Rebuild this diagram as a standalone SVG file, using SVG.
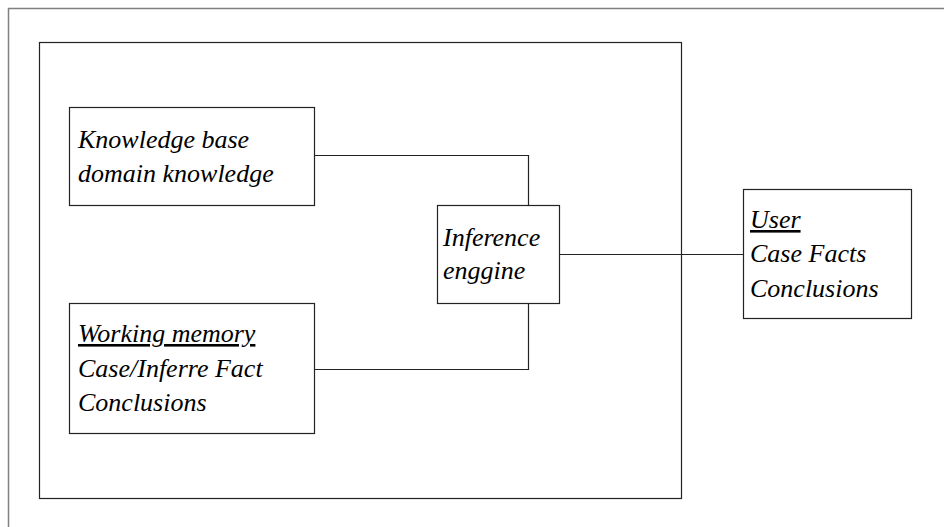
<svg xmlns="http://www.w3.org/2000/svg" width="944" height="527" viewBox="0 0 944 527">
<style>
.box{fill:#fff;stroke:#222;stroke-width:1.2}
.frame{fill:none;stroke:#808080;stroke-width:1.5}
.c{fill:none;stroke:#222;stroke-width:1.2}
.u{text-decoration:underline}
</style>
<rect width="944" height="527" fill="#fff"/>
<g id="frame"><path class="frame" d="M8.5,527 V8.5 H944"/></g>
<g id="system"><rect class="box" x="39.5" y="42.5" width="642" height="456" fill="none"/></g>
<g id="connectors">
<path class="c" d="M314,155.5 H528.5 V205"/>
<path class="c" d="M314,369.5 H528.5 V303"/>
<path class="c" d="M559,254.5 H743"/>
</g>
<g font-size="26" fill="#000" font-style="italic">
<g id="knowledge" font-family="'Liberation Serif'">
<rect class="box" x="69.5" y="107.5" width="245" height="98"/>
<text x="78" y="148">Knowledge base</text>
<text x="78" y="182">domain knowledge</text>
</g>
<g id="working" font-family="'Liberation Serif'">
<rect class="box" x="69.5" y="303.5" width="245" height="130"/>
<text class="u" x="78" y="342">Working memory</text>
<text x="78" y="377">Case/Inferre Fact</text>
<text x="78" y="411">Conclusions</text>
</g>
<g id="inference" font-family="'Liberation Serif'">
<rect class="box" x="437.5" y="205.5" width="122" height="98"/>
<text x="443" y="246">Inference</text>
<text x="443" y="279">enggine</text>
</g>
<g id="user" font-family="'Liberation Serif'">
<rect class="box" x="743.5" y="189.5" width="168" height="129"/>
<text class="u" x="750" y="228">User</text>
<text x="750" y="262">Case Facts</text>
<text x="750" y="297">Conclusions</text>
</g>
</g>
</svg>
